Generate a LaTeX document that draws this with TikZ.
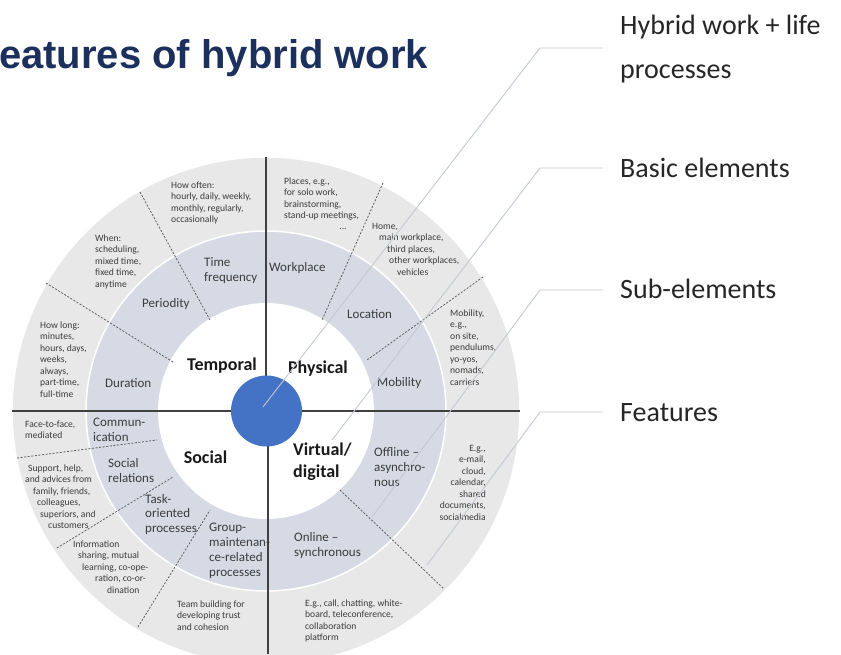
\documentclass[tikz,border=0pt]{standalone}
\usepackage{fontspec}
\setmainfont{Carlito}
\newfontfamily\titlefont{Liberation Sans}
\definecolor{ringout}{RGB}{232,232,233}
\definecolor{ringmid}{RGB}{213,218,229}
\definecolor{dotblue}{RGB}{68,114,196}
\definecolor{titleblue}{RGB}{28,48,94}
\definecolor{leader}{RGB}{196,200,210}
\definecolor{divider}{RGB}{64,64,64}
\definecolor{txt}{RGB}{60,60,60}
\begin{document}
\begin{tikzpicture}[x=1pt,y=-1pt,
  quad/.style={font=\fontsize{18}{22}\selectfont\bfseries, text=black!90, inner sep=0, anchor=base},
  subel/.style={font=\fontsize{13}{15}\selectfont, text=txt, inner sep=0, align=left, anchor=base west},
  feat/.style={font=\fontsize{9.6}{11.5}\selectfont, text=txt, inner sep=0, align=left, anchor=base west},
  side/.style={font=\fontsize{28}{44}\selectfont, text=black!85, inner sep=0, anchor=base west, align=left},
  solidline/.style={draw=divider, line width=1.2pt},
  dashline/.style={draw=divider!85, line width=0.8pt, dash pattern=on 2pt off 1.6pt},
  leaderline/.style={draw=leader, line width=0.9pt}]
\useasboundingbox (0,0) rectangle (841,654);
\fill[white] (0,0) rectangle (841,654);

% rings
\coordinate (c) at (266,411);
\filldraw[fill=ringout, draw=white, line width=1.5pt] (c) circle[radius=254pt];
\filldraw[fill=ringmid, draw=white, line width=1.5pt] (c) circle[radius=180pt];
\fill[white] (c) circle[radius=108pt];

% dashed dividers
\draw[dashline] (140,192) -- (210,320);
\draw[dashline] (46,283) -- (173,362);
\draw[dashline] (383,183) -- (322,320);
\draw[dashline] (483,277) -- (367,360);
\draw[dashline] (17,458) -- (157,440);
\draw[dashline] (57,548) -- (173,477);
\draw[dashline] (138,627) -- (210,510);
\draw[dashline] (340,490) -- (443,588);

% solid quadrant lines
\draw[solidline] (12,411) -- (520,411);
\draw[solidline] (266,157) -- (266,411);
\draw[solidline] (268,411) -- (268,654);

% centre dot
\fill[dotblue] (266.5,411) circle[radius=35.5pt];

% title
\node[anchor=base west, inner sep=0, font=\titlefont\fontsize{40}{48}\selectfont\bfseries, text=titleblue] (title) at (-1,68) {eatures of hybrid work};

% quadrant names (multi-line nodes are anchored at the baseline of their last line)
\node[quad] (temporal) at (222,370) {Temporal};
\node[quad] (physical) at (318,373) {Physical};
\node[quad] (social) at (205.5,463) {Social};
\node[quad, anchor=base west, align=left] (virtual) at (293,477) {Virtual/\\digital};

% sub-elements
\node[subel] (timefreq) at (204,281) {Time\\frequency};
\node[subel] (workplace) at (269,271) {Workplace};
\node[subel] (periodity) at (142,307) {Periodity};
\node[subel] (location) at (347,318) {Location};
\node[subel] (mobility) at (377,386) {Mobility};
\node[subel] (duration) at (105,387) {Duration};
\node[subel] (commun) at (93,441) {Commun-\\ication};
\node[subel] (socrel) at (108,482) {Social\\relations};
\node[subel, font=\fontsize{13}{14.5}\selectfont] (task) at (145,532) {Task-\\oriented\\processes};
\node[subel] (group) at (209,576) {Group-\\maintenan-\\ce-related\\processes};
\node[subel] (offline) at (374,486) {Offline --\\asynchro-\\nous};
\node[subel] (online) at (294,556) {Online --\\synchronous};

% features
\node[feat] (howoften) at (171,222.5) {How often:\\hourly, daily, weekly,\\monthly, regularly,\\occasionally};
\node[feat] (places) at (284,218.5) {Places, e.g.,\\for solo work,\\brainstorming,\\stand-up meetings,};
\node[feat, anchor=base] (dots) at (343,229) {...};
\node[feat] (home) at (372,275) {Home,\\\hspace*{7pt}main workplace,\\\hspace*{15pt}third places,\\\hspace*{17pt}other workplaces,\\\hspace*{25pt}vehicles};
\node[feat] (mobfeat) at (450,385) {Mobility,\\e.g.,\\on site,\\pendulums,\\yo-yos,\\nomads,\\carriers};
\node[feat] (when) at (95,287) {When:\\scheduling,\\mixed time,\\fixed time,\\anytime};
\node[feat] (howlong) at (40,397) {How long:\\minutes,\\hours, days,\\weeks,\\always,\\part-time,\\full-time};
\node[feat] (f2f) at (25,438.5) {Face-to-face,\\mediated};
\node[feat] (support) at (25,528.5) {\hspace*{3pt}Support, help,\\and advices from\\\hspace*{8pt}family, friends,\\\hspace*{12pt}colleagues,\\\hspace*{15pt}superiors, and\\\hspace*{23pt}customers};
\node[feat] (info) at (73,593) {Information\\\hspace*{5pt}sharing, mutual\\\hspace*{9pt}learning, co-ope-\\\hspace*{22pt}ration, co-or-\\\hspace*{34pt}dination};
\node[feat] (team) at (177,630) {Team building for\\developing trust\\and cohesion};
\node[feat] (eg1) at (305,640.5) {E.g., call, chatting, white-\\board, teleconference,\\collaboration\\platform};
\node[feat, anchor=base east, align=right] (eg2) at (486,520) {E.g.,\\e-mail,\\cloud,\\calendar,\\shared\\documents,\\socialmedia};

% side labels
\node[side] (hybrid) at (620,78) {Hybrid work + life\\processes};
\node[side] (basic) at (620,177) {Basic elements};
\node[side] (subelements) at (620,298) {Sub-elements};
\node[side] (features) at (620,421) {Features};

% leader lines
\coordinate (h0) at (263,407); \coordinate (h1) at (540,48); \coordinate (h2) at (603,48);
\coordinate (b0) at (332,440); \coordinate (b1) at (540,168); \coordinate (b2) at (603,168);
\coordinate (s0) at (372,517); \coordinate (s1) at (540,290); \coordinate (s2) at (603,290);
\coordinate (f0) at (427,565); \coordinate (f1) at (540,412); \coordinate (f2) at (603,412);
\draw[leaderline] (h0) -- (h1) -- (h2);
\draw[leaderline] (b0) -- (b1) -- (b2);
\draw[leaderline] (s0) -- (s1) -- (s2);
\draw[leaderline] (f0) -- (f1) -- (f2);
\end{tikzpicture}
\end{document}
